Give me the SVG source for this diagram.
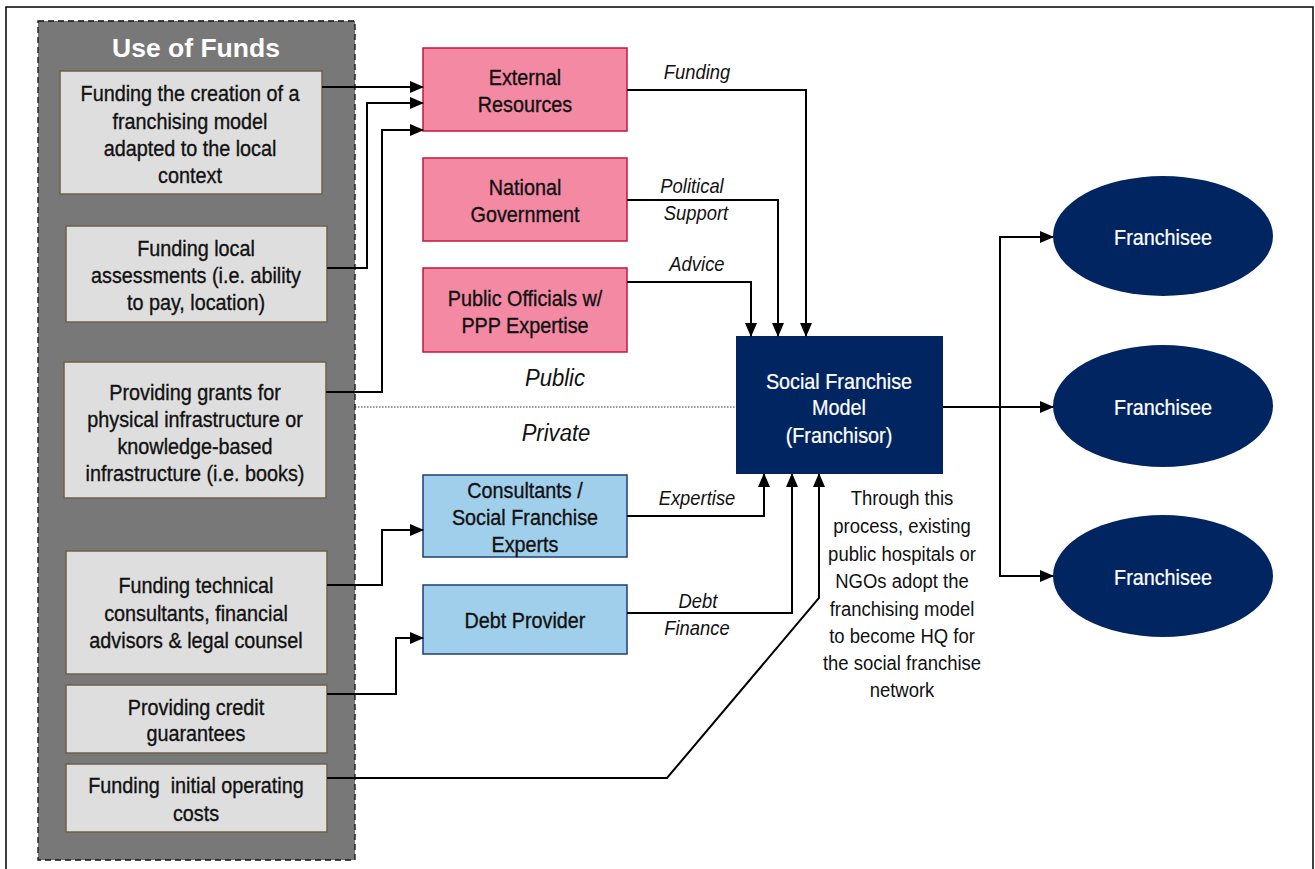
<svg xmlns="http://www.w3.org/2000/svg" width="1315" height="869" viewBox="0 0 1315 869">
<style>
text{font-family:"Liberation Sans",Arial,sans-serif;text-anchor:middle;dominant-baseline:central;transform-box:fill-box;transform-origin:center}
.fund rect{fill:#dedede;stroke:#6e6048;stroke-width:1.5}
.fund text,.pink text,.blue text{font-size:22px;fill:#111;stroke:#111;stroke-width:0.35;transform:scaleX(.9)}
.pink rect{fill:#f389a3;stroke:#c0183c;stroke-width:1.5}
.blue rect{fill:#a0cfeb;stroke:#1f3d7a;stroke-width:1.5}
.navy{fill:#002561}
.wt{font-size:22px;fill:#fff;stroke:#fff;stroke-width:0.25;transform:scaleX(.9)}
.lbl{font-size:20px;font-style:italic;fill:#111;transform:scaleX(.92)}
.big{font-size:23px;font-style:italic;fill:#111;transform:scaleX(.96)}
.note{font-size:21px;fill:#111;transform:scaleX(.88)}
.title{font-weight:bold;font-size:26.5px;fill:#fff}
.conn path{fill:none;stroke:#000;stroke-width:2}
</style>
<defs>
<marker id="ah" markerUnits="userSpaceOnUse" markerWidth="14" markerHeight="12" refX="13" refY="6" orient="auto">
<path d="M0,0 L14,6 L0,12 Z" fill="#000"/>
</marker>
</defs>
<rect x="6" y="7" width="1307" height="880" fill="#fff" stroke="#000" stroke-width="1.5"/>
<g id="use-of-funds">
<rect x="38" y="21" width="317" height="839" fill="#787878" stroke="#111" stroke-width="1.3" stroke-dasharray="6,4"/>
<text class="title" x="196" y="48">Use of Funds</text>
</g>
<g id="f1" class="fund"><rect x="60" y="71" width="262" height="123"/>
<text x="190" y="93">Funding the creation of a</text><text x="190" y="121">franchising model</text><text x="190" y="148">adapted to the local</text><text x="190" y="175">context</text></g>
<g id="f2" class="fund"><rect x="66" y="226" width="261" height="96"/>
<text x="196" y="248">Funding local</text><text x="196" y="275">assessments (i.e. ability</text><text x="196" y="302">to pay, location)</text></g>
<g id="f3" class="fund"><rect x="64" y="362" width="262" height="136"/>
<text x="195" y="392">Providing grants for</text><text x="195" y="419">physical infrastructure or</text><text x="195" y="446">knowledge-based</text><text x="195" y="473">infrastructure (i.e. books)</text></g>
<g id="f4" class="fund"><rect x="66" y="551" width="261" height="123"/>
<text x="196" y="585">Funding technical</text><text x="196" y="613">consultants, financial</text><text x="196" y="640">advisors &amp; legal counsel</text></g>
<g id="f5" class="fund"><rect x="66" y="685" width="261" height="68"/>
<text x="196" y="707">Providing credit</text><text x="196" y="733">guarantees</text></g>
<g id="f6" class="fund"><rect x="66" y="764" width="261" height="68"/>
<text x="196" y="785" xml:space="preserve">Funding  initial operating</text><text x="196" y="813">costs</text></g>
<g id="external" class="pink"><rect x="423" y="48" width="204" height="83"/>
<text x="525" y="77">External</text><text x="525" y="104">Resources</text></g>
<g id="government" class="pink"><rect x="423" y="158" width="204" height="83"/>
<text x="525" y="187">National</text><text x="525" y="214">Government</text></g>
<g id="officials" class="pink"><rect x="423" y="268" width="204" height="84"/>
<text x="525" y="298">Public Officials w/</text><text x="525" y="325">PPP Expertise</text></g>
<g id="consultants" class="blue"><rect x="423" y="475" width="204" height="82"/>
<text x="525" y="490">Consultants /</text><text x="525" y="517">Social Franchise</text><text x="525" y="544">Experts</text></g>
<g id="debt" class="blue"><rect x="423" y="585" width="204" height="69"/>
<text x="525" y="620">Debt Provider</text></g>
<g id="franchisor"><rect class="navy" x="736" y="336" width="207" height="138"/>
<text class="wt" x="839" y="381">Social Franchise</text><text class="wt" x="839" y="407">Model</text><text class="wt" x="839" y="435">(Franchisor)</text></g>
<g id="fr1"><ellipse class="navy" cx="1163" cy="236" rx="110" ry="60"/><text class="wt" x="1163" y="237">Franchisee</text></g>
<g id="fr2"><ellipse class="navy" cx="1163" cy="406" rx="110" ry="61"/><text class="wt" x="1163" y="407">Franchisee</text></g>
<g id="fr3"><ellipse class="navy" cx="1163" cy="576" rx="110" ry="61"/><text class="wt" x="1163" y="577">Franchisee</text></g>
<g id="sector-divider">
<line x1="355" y1="407" x2="736" y2="407" stroke="#333" stroke-width="1" stroke-dasharray="1.5,1.5"/>
<text class="big" x="555" y="378">Public</text><text class="big" x="556" y="433">Private</text>
</g>
<g id="connectors" class="conn">
<path d="M322,87 H423" marker-end="url(#ah)"/>
<path d="M327,268 H367 V103 H423" marker-end="url(#ah)"/>
<path d="M326,392 H382 V130 H423" marker-end="url(#ah)"/>
<path d="M327,585 H382 V530 H423" marker-end="url(#ah)"/>
<path d="M327,694 H396 V638 H423" marker-end="url(#ah)"/>
<path d="M627,90 H806 V336" marker-end="url(#ah)"/>
<path d="M627,200 H778 V336" marker-end="url(#ah)"/>
<path d="M627,282 H751 V336" marker-end="url(#ah)"/>
<path d="M627,516 H764 V474" marker-end="url(#ah)"/>
<path d="M627,613 H792 V474" marker-end="url(#ah)"/>
<path d="M327,778 H667 L819,598 V474" marker-end="url(#ah)"/>
<path d="M943,407 H1053" marker-end="url(#ah)"/>
<path d="M1053,237 H1000 V576 H1053" marker-end="url(#ah)"/>
<path d="M1000,237 H1053" marker-end="url(#ah)"/>
</g>
<g id="labels">
<text class="lbl" x="697" y="72">Funding</text>
<text class="lbl" x="692" y="186">Political</text>
<text class="lbl" x="696" y="213">Support</text>
<text class="lbl" x="697" y="264">Advice</text>
<text class="lbl" x="697" y="498">Expertise</text>
<text class="lbl" x="698" y="601">Debt</text>
<text class="lbl" x="697" y="628">Finance</text>
</g>
<g id="note" xml:space="preserve">
<text class="note" x="902" y="498">Through this</text>
<text class="note" x="902" y="526">process,  existing</text>
<text class="note" x="902" y="554">public hospitals  or</text>
<text class="note" x="902" y="581">NGOs adopt the</text>
<text class="note" x="902" y="609">franchising  model</text>
<text class="note" x="902" y="636">to become  HQ for</text>
<text class="note" x="902" y="663">the social  franchise</text>
<text class="note" x="902" y="690">network</text>
</g>
</svg>
